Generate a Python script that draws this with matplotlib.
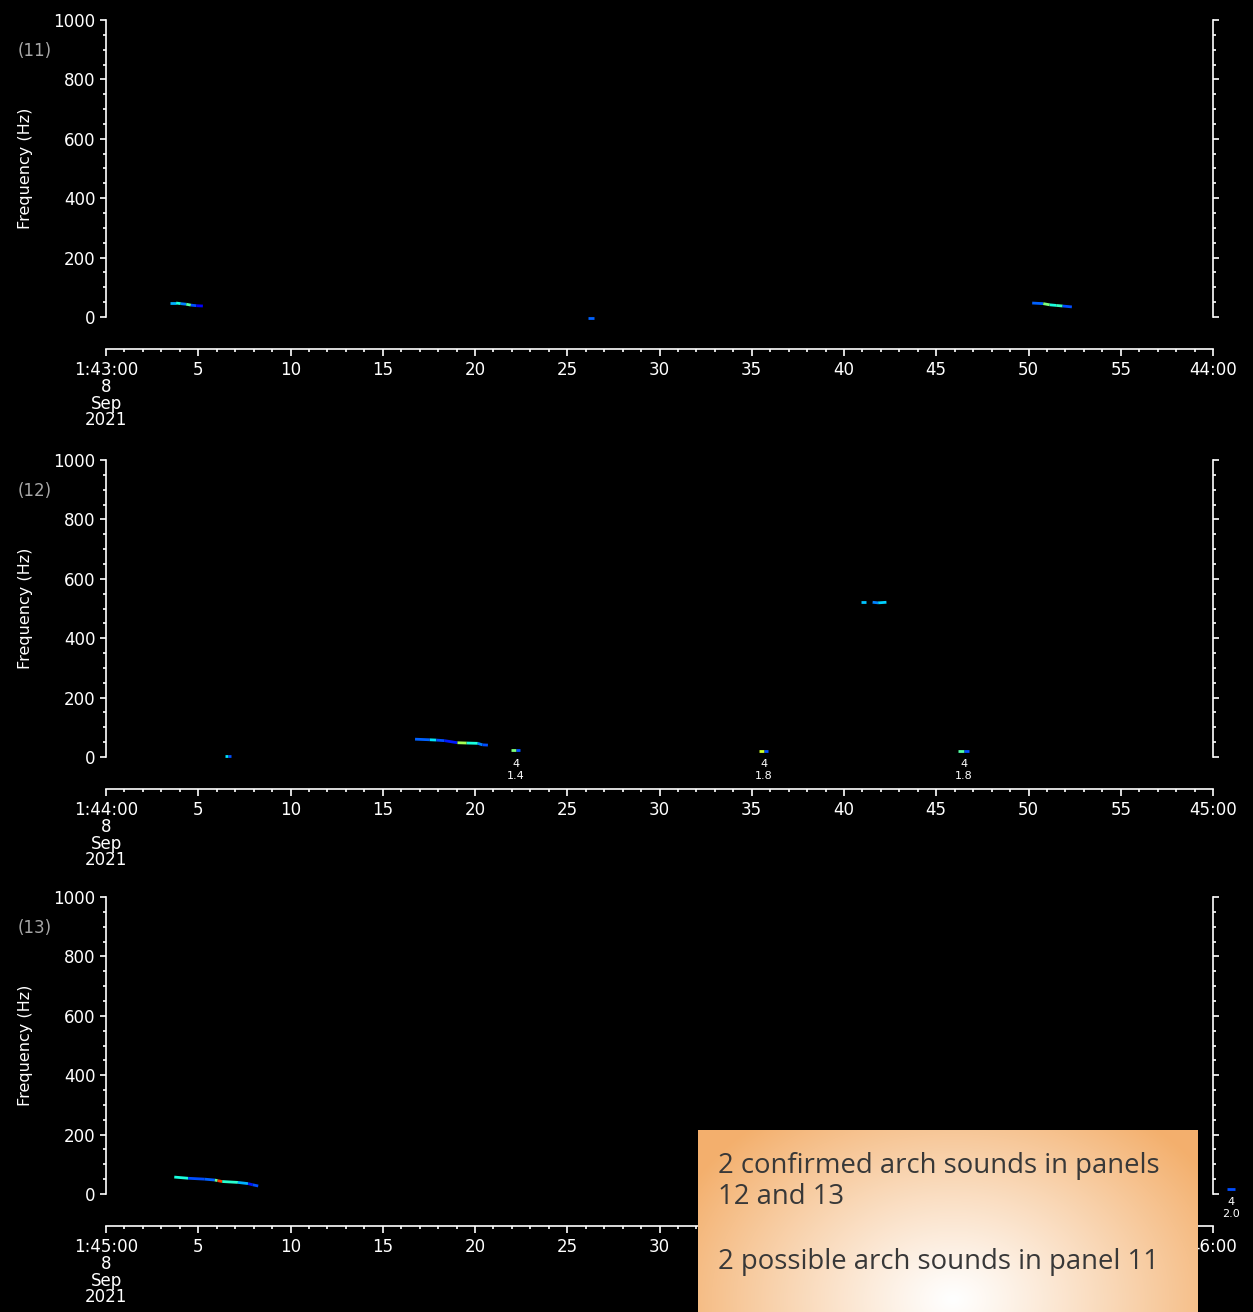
import numpy as np
import matplotlib
matplotlib.use("Agg")
import matplotlib.pyplot as plt
from matplotlib.collections import LineCollection
from matplotlib.ticker import MultipleLocator, FixedLocator

plt.rcParams['font.family'] = ['DejaVu Sans']

# Panel labels and time axis text
panel_ids = ["(11)", "(12)", "(13)"]
panel_starts = ["1:43:00", "1:44:00", "1:45:00"]
panel_ends = ["44:00", "45:00", "46:00"]
date_lines = ["8", "Sep", "2021"]
tick_secs = list(range(0, 61, 5))

# Streaks: (seconds after start, frequency Hz, intensity per segment 0..1)
p11_streaks = [
    ([3.45, 3.8, 4.05, 4.35, 4.6, 4.9, 5.25], [47, 47, 45, 43, 40, 38, 37],
     [0.3, 0.38, 0.25, 0.45, 0.2, 0.12]),
    ([26.15, 26.45], [-2, -2], [0.22]),
    ([50.2, 50.8, 51.15, 51.5, 51.85, 52.35], [47, 45, 41, 39, 37, 34],
     [0.22, 0.5, 0.38, 0.42, 0.2]),
]
p12_streaks = [
    ([6.45, 6.6, 6.75], [5, 5, 5], [0.35, 0.2]),
    ([16.75, 17.55, 17.9, 18.35, 19.05, 19.55, 20.15, 20.4, 20.7],
     [60, 58, 57, 55, 48, 47, 46, 41, 40],
     [0.22, 0.35, 0.2, 0.15, 0.55, 0.38, 0.25, 0.2]),
    ([21.95, 22.2, 22.45], [22, 22, 22], [0.5, 0.2]),
    ([35.4, 35.65, 35.9], [20, 20, 20], [0.6, 0.2]),
    ([46.2, 46.5, 46.8], [20, 20, 20], [0.45, 0.2]),
    ([40.9, 41.2], [523, 523], [0.32]),
    ([41.55, 41.85, 42.3], [521, 519, 521], [0.25, 0.33]),
]
p13_streaks = [
    ([3.7, 4.45, 5.35, 5.9, 6.05, 6.3, 7.15, 7.7, 7.95, 8.25],
     [57, 53, 50, 47, 45, 42, 39, 35, 31, 27],
     [0.38, 0.2, 0.22, 0.48, 0.85, 0.4, 0.3, 0.15, 0.2]),
    ([60.75, 61.2], [18, 18], [0.2]),
]
streaks = [p11_streaks, p12_streaks, p13_streaks]

# small value annotations under some marks: (t, f, upper, lower)
p11_notes = []
p12_notes = [(22.2, 22, "4", "1.4"), (35.65, 20, "4", "1.8"), (46.5, 20, "4", "1.8")]
p13_notes = [(60.97, 18, "4", "2.0")]
notes = [p11_notes, p12_notes, p13_notes]

box_lines = ["2 confirmed arch sounds in panels", "12 and 13", "",
             "2 possible arch sounds in panel 11"]

W, H = 1253, 1312
fig = plt.figure(figsize=(W / 100, H / 100), dpi=100, facecolor='black')

tops = [20, 460, 897]
pan_h = 297
cmap = plt.get_cmap('jet')

for i in range(3):
    ax = fig.add_axes([106 / W, 1 - (tops[i] + pan_h) / H, 1107 / W, pan_h / H])
    ax.set_facecolor('black')
    ax.set_xlim(0, 60)
    ax.set_ylim(0, 1000)

    for t, f, inten in streaks[i]:
        pts = np.column_stack([t, f])
        segs = [pts[k:k + 2] for k in range(len(pts) - 1)]
        lc = LineCollection(segs, colors=cmap(np.array(inten)), linewidths=2.0,
                            capstyle='butt', clip_on=False)
        ax.add_collection(lc)

    for t, f, up, lo in notes[i]:
        ax.annotate(up, (t, f), xytext=(0, -9.5), textcoords='offset points',
                    ha='center', va='center', color='white', fontsize=8,
                    annotation_clip=False)
        ax.annotate(lo, (t, f), xytext=(0, -18.2), textcoords='offset points',
                    ha='center', va='center', color='white', fontsize=8,
                    annotation_clip=False)

    for s in ['left', 'right', 'bottom']:
        ax.spines[s].set_color('white')
        ax.spines[s].set_linewidth(1.2)
    ax.spines['top'].set_visible(False)
    ax.spines['bottom'].set_position(('outward', 23))

    ax.yaxis.set_major_locator(MultipleLocator(200))
    ax.yaxis.set_minor_locator(MultipleLocator(50))
    ax.xaxis.set_major_locator(FixedLocator(tick_secs))
    ax.xaxis.set_minor_locator(MultipleLocator(1))

    xlabels = [panel_starts[i] + "\n" + "\n".join(date_lines)] + \
              [str(s) for s in tick_secs[1:-1]] + [panel_ends[i]]
    ax.set_xticklabels(xlabels)
    for lab in ax.get_xticklabels():
        lab.set_linespacing(0.9)
        lab.set_verticalalignment('top')

    ax.tick_params(which='both', colors='white', direction='out', width=1.2,
                   labelsize=12, right=True, labelright=False, top=False)
    ax.tick_params(which='major', length=4.5, pad=3)
    ax.tick_params(which='minor', length=2.5)
    ax.tick_params(axis='x', which='major', length=5, pad=4)

    ax.set_ylabel("Frequency (Hz)", color='white', fontsize=11.5)
    ax.yaxis.set_label_coords(-0.066, 0.5)
    ax.text(-0.064, 0.895, panel_ids[i], transform=ax.transAxes, color='#a8a8a8',
            fontsize=12, ha='center', va='center')

# orange gradient note box
bx0, by0, bx1, by1 = 698, 1130, 1197, 1312
bax = fig.add_axes([bx0 / W, 1 - by1 / H, (bx1 - bx0) / W, (by1 - by0) / H])
bw, bh = bx1 - bx0, by1 - by0
gx, gy = np.meshgrid(np.arange(bw), np.arange(bh))
d = np.sqrt(((gx - 254) / 300.0) ** 2 + ((gy - 169) / 230.0) ** 2)
d = np.clip(d, 0, 1) ** 1.1
orange = np.array([0.955, 0.69, 0.43])
img = (1 - d[..., None]) * np.array([1.0, 1.0, 1.0]) + d[..., None] * orange
bax.imshow(img, aspect='auto', interpolation='bilinear')
bax.set_axis_off()

line_y = [1166, 1197, 1230, 1262]
for txt, yy in zip(box_lines, line_y):
    if txt:
        fig.text(718 / W, 1 - yy / H, txt, color='#383838', fontsize=19.8,
                 family=['Open Sans', 'DejaVu Sans'], ha='left', va='center')

fig.savefig("out.png", dpi=100, facecolor='black')
